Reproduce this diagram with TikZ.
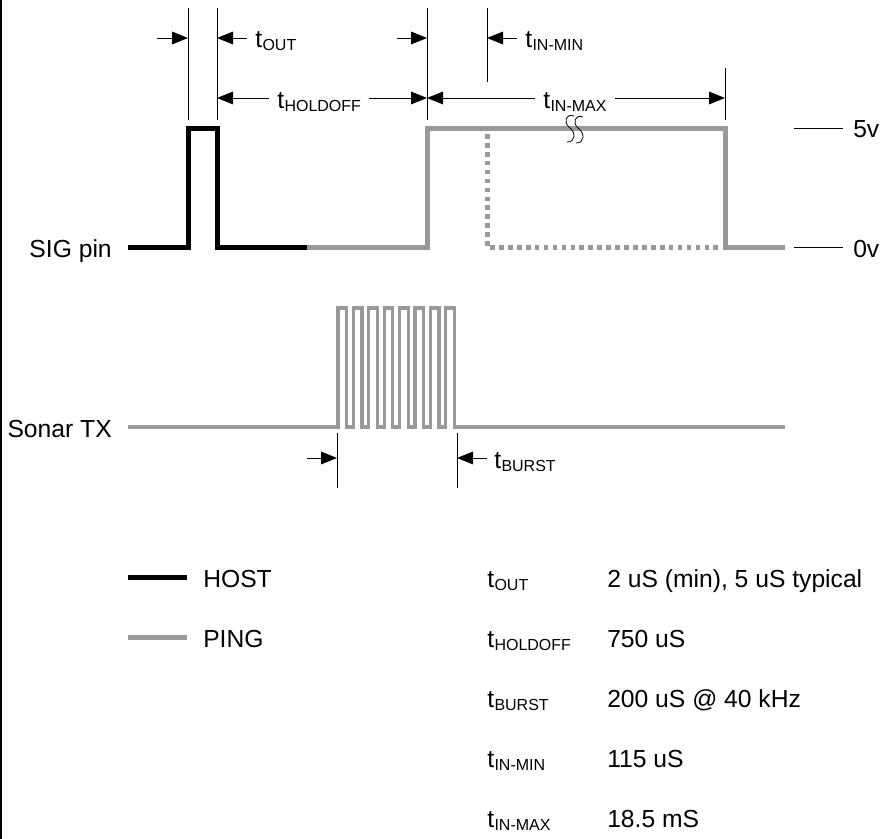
\documentclass[tikz,border=0pt]{standalone}
\usepackage{fontspec}
\setmainfont{Liberation Sans}
\usetikzlibrary{arrows.meta}
\definecolor{pinggray}{HTML}{999999}
\newcommand\tsub[1]{t\kern0.3pt\raisebox{-2.6pt}{\fontsize{12}{13}\selectfont #1}}
\tikzset{
  lbl/.style={inner sep=0pt, anchor=base west, font=\fontsize{18.5}{20}\selectfont},
  lble/.style={lbl, anchor=base east},
  hostw/.style={line width=3.75pt, black, miter limit=10},
  pingw/.style={line width=3.75pt, pinggray, miter limit=10},
  pingd/.style={line width=3.75pt, pinggray, dash pattern=on 3.5pt off 3.2pt},
  sonar/.style={line width=2.4pt, pinggray, miter limit=10},
  ext/.style={line width=0.75pt, black},
  dim/.style={line width=0.75pt, black, -{Triangle[length=12pt,width=9.5pt]}},
  dimlbl/.style={lbl, inner xsep=6pt},
}
\begin{document}
\begin{tikzpicture}[x=0.75pt,y=-0.75pt]
\useasboundingbox (0,0) rectangle (890,839);
\fill[white] (0,0) rectangle (890,839);
% left border
\draw[line width=1.5pt] (1,0) -- (1,839);

% ---- SIG pin waveform
\coordinate (s0) at (128,247);
\draw[hostw] (s0) -- (188,247) -- (188,128) -- (217,128) -- (217,247) -- (307,247);
\draw[pingw] (307,247) -- (427,247) -- (427,128) -- (725,128) -- (725,247) -- (785,247);
\draw[pingd] (487,134) -- (487,247) -- (722,247);

% break symbol
\draw[line width=0.6pt] (574,116) .. controls (566,113) and (563,122) .. (569,127)
   .. controls (576,132) and (576,142) .. (567,142);
\draw[line width=0.6pt] (583,117) .. controls (575,114) and (572,123) .. (578,128)
   .. controls (585,133) and (585,143) .. (576,143);

% labels
\node[lble] (sig) at (112,257) {SIG pin};
\node[lble] (stx) at (112,437) {Sonar TX};
\node[lbl] (v5) at (853,137) {5v};
\node[lbl] (v0) at (853,257) {0v};
\draw[ext] (794,128) -- (843,128);
\draw[ext] (794,247) -- (843,247);

% ---- extension lines (top)
\draw[ext] (188,8) -- (188,120);
\draw[ext] (217,8) -- (217,120);
\draw[ext] (427,8) -- (427,120);
\draw[ext] (487,8) -- (487,82);
\draw[ext] (725,68) -- (725,120);

% tOUT
\coordinate (a1) at (157,38); \coordinate (a2) at (188,38);
\draw[dim] (a1) -- (a2);
\node[lbl] (tout) at (255,47) {\tsub{OUT}};
\coordinate (a3) at (247,38); \coordinate (a4) at (217,38);
\draw[dim] (a3) -- (a4);
% arrow into 427
\coordinate (a5) at (397,38); \coordinate (a6) at (427,38);
\draw[dim] (a5) -- (a6);
% tIN-MIN
\coordinate (a7) at (517,38); \coordinate (a8) at (487,38);
\draw[dim] (a7) -- (a8);
\node[lbl] (tinmin) at (525,47) {\tsub{IN-MIN}};

% tHOLDOFF
\coordinate (h1) at (217,98); \coordinate (h2) at (427,98);
\node[dimlbl] (thold) at (269,108) {\tsub{HOLDOFF}};
\draw[dim] (thold.west |- h1) -- (h1);
\draw[dim] (thold.east |- h2) -- (h2);
% tIN-MAX
\coordinate (m1) at (427,98); \coordinate (m2) at (725,98);
\node[dimlbl] (tinmax) at (535,108) {\tsub{IN-MAX}};
\draw[dim] (tinmax.west |- m1) -- (m1);
\draw[dim] (tinmax.east |- m2) -- (m2);

% ---- Sonar TX waveform
\draw[sonar] (128,427) -- (338,427)
  \foreach \k in {0,...,7} {
    -- ({338+15.4*\k},308) -- ({346.5+15.4*\k},308) -- ({346.5+15.4*\k},427)
    \ifnum\k<7 -- ({338+15.4*(\k+1)},427)\fi
  } -- (785,427);

% tBURST
\draw[ext] (337,433) -- (337,488);
\draw[ext] (457,433) -- (457,488);
\coordinate (b1) at (307,458); \coordinate (b2) at (337,458);
\draw[dim] (b1) -- (b2);
\coordinate (b3) at (487,458); \coordinate (b4) at (457,458);
\draw[dim] (b3) -- (b4);
\node[lbl] (tburst) at (494,468) {\tsub{BURST}};

% ---- legend
\draw[hostw] (128,577) -- (187,577);
\node[lbl] (host) at (203,587) {HOST};
\draw[pingw] (128,637) -- (187,637);
\node[lbl] (ping) at (203,647) {PING};

% ---- table
\node[lbl] (k1) at (487,587) {\tsub{OUT}};
\node[lbl] (v1) at (607,587) {2 uS (min), 5 uS typical};
\node[lbl] (k2) at (487,647) {\tsub{HOLDOFF}};
\node[lbl] (v2) at (607,647) {750 uS};
\node[lbl] (k3) at (487,707) {\tsub{BURST}};
\node[lbl] (v3) at (607,707) {200 uS @ 40 kHz};
\node[lbl] (k4) at (487,767) {\tsub{IN-MIN}};
\node[lbl] (v4) at (607,767) {115 uS};
\node[lbl] (k5) at (487,827) {\tsub{IN-MAX}};
\node[lbl] (v5t) at (607,827) {18.5 mS};
\end{tikzpicture}
\end{document}
